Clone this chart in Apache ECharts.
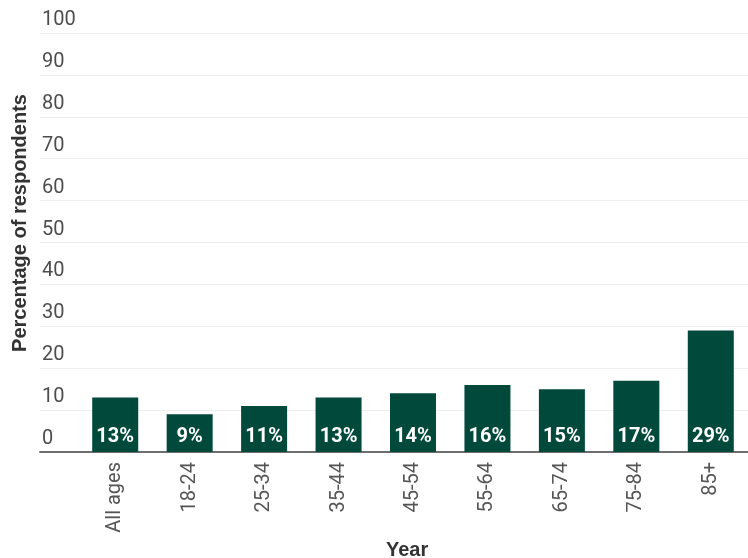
<!DOCTYPE html>
<html>
<head>
<meta charset="utf-8">
<script src="https://cdn.jsdelivr.net/npm/echarts@6/dist/echarts.min.js"></script>
<style>html,body{margin:0;padding:0;background:#fff}#c{width:748px;height:558px}</style>
</head>
<body>
<div id="c"></div>
<script>
const categories = ['All ages', '18-24', '25-34', '35-44', '45-54', '55-64', '65-74', '75-84', '85+'];
const values = [13, 9, 11, 13, 14, 16, 15, 17, 29];
const yTicks = { min: 0, max: 100, interval: 10 };
const yTitle = 'Percentage of respondents';
const xTitle = 'Year';

const chart = echarts.init(document.getElementById('c'), null, { renderer: 'canvas' });
const font = 'Roboto, "Noto Sans", sans-serif';
const titleFont = '"Liberation Sans", Arial, sans-serif';
chart.setOption({
  animation: false,
  textStyle: { fontFamily: font },
  title: {
    text: xTitle, left: 381, top: 535,
    textStyle: { fontSize: 20, fontWeight: 'bold', color: '#333', fontFamily: titleFont }
  },
  grid: [
    { left: 40, right: -2, top: 33, bottom: 106 },
    { left: 78, right: -2, top: 33, bottom: 106 }
  ],
  xAxis: [
    { gridIndex: 0, type: 'value', min: 0, max: 1, axisLine: { show: true, onZero: false, lineStyle: { color: '#6e6e6e', width: 2 } },
      axisTick: { show: false }, axisLabel: { show: false }, splitLine: { show: false } },
    { gridIndex: 1, type: 'category', data: categories, axisLine: { show: false }, axisTick: { show: false },
      axisLabel: { rotate: 90, fontSize: 20, color: '#555', margin: 10, fontFamily: font, interval: 0 } }
  ],
  yAxis: [
    { gridIndex: 0, type: 'value', min: yTicks.min, max: yTicks.max, interval: yTicks.interval,
      axisLine: { show: false }, axisTick: { show: false },
      axisLabel: { inside: true, verticalAlign: 'bottom', fontSize: 20, color: '#4d4d4d', margin: 2, padding: [0, 0, 3, 0], fontFamily: font },
      splitLine: { lineStyle: { color: '#eeeeee', width: 1 } },
      name: yTitle, nameLocation: 'middle', nameGap: 10,
      nameTextStyle: { fontSize: 20, fontWeight: 'bold', color: '#333', fontFamily: titleFont, padding: [0, 0, 0, 39] } },
    { gridIndex: 1, type: 'value', min: yTicks.min, max: yTicks.max, show: false }
  ],
  series: [{
    type: 'bar', xAxisIndex: 1, yAxisIndex: 1, data: values, barWidth: 46,
    itemStyle: { color: '#00493b' },
    label: { show: true, position: 'insideBottom', distance: 5, formatter: '{c}%', color: '#fff', fontWeight: 'bold', fontSize: 20, fontFamily: font }
  }]
});
</script>
</body>
</html>
